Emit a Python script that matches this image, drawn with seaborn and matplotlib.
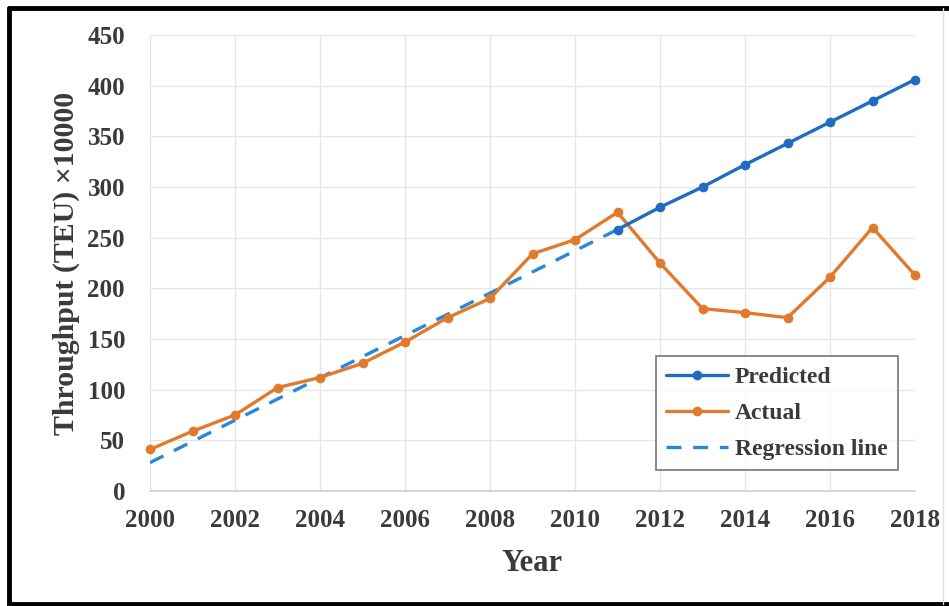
import matplotlib
matplotlib.use("Agg")
import matplotlib.pyplot as plt
import seaborn as sns
import pandas as pd
from matplotlib.lines import Line2D

# Container throughput, unit: 10,000 TEU
years_actual = list(range(2000, 2019))
actual = [41, 59, 75, 102, 112, 126, 147, 171, 190, 234, 248, 275,
          225, 180, 176, 171, 211, 260, 213]

years_pred = list(range(2011, 2019))
predicted = [258, 280, 300, 322, 343, 364, 385, 406]

# Fitted trend over the observed period (end points of the straight line)
reg_years = [2000, 2011]
reg_values = [28, 258]

x_ticks = list(range(2000, 2019, 2))
y_ticks = list(range(0, 451, 50))

BLUE = "#1f6cc0"
ORANGE = "#e07a2c"
REG_BLUE = "#2a88d8"
TEXT = "#3a3a3a"

sns.set_theme(style="white")
plt.rcParams["font.family"] = ["Liberation Serif", "DejaVu Serif"]
plt.rcParams["font.weight"] = "bold"

fig = plt.figure(figsize=(9.49, 6.06), dpi=100)
ax = fig.add_axes([150 / 949, 1 - 491 / 606, (915 - 150) / 949, (491 - 35) / 606])

df_act = pd.DataFrame({"Year": years_actual, "Value": actual})
df_pred = pd.DataFrame({"Year": years_pred, "Value": predicted})
df_reg = pd.DataFrame({"Year": reg_years, "Value": reg_values})

sns.lineplot(data=df_reg, x="Year", y="Value", ax=ax, color=REG_BLUE,
             linewidth=2.4, linestyle=(0, (4.5, 3.5)), zorder=3)
sns.lineplot(data=df_act, x="Year", y="Value", ax=ax, color=ORANGE,
             linewidth=2.4, marker="o", markersize=7, markeredgewidth=0,
             zorder=4, clip_on=False)
sns.lineplot(data=df_pred, x="Year", y="Value", ax=ax, color=BLUE,
             linewidth=2.4, marker="o", markersize=7, markeredgewidth=0,
             zorder=5, clip_on=False)

ax.set_xlim(2000, 2018)
ax.set_ylim(0, 450)
ax.set_xticks(x_ticks)
ax.set_yticks(y_ticks)
ax.grid(True, color="#e6e6e6", linewidth=1.0)
ax.set_axisbelow(True)
for side in ["top", "right", "left"]:
    ax.spines[side].set_visible(False)
ax.spines["bottom"].set_color("#d0d0d0")
ax.spines["bottom"].set_linewidth(1.2)

ax.tick_params(axis="both", length=0, labelsize=18, labelcolor=TEXT)
ax.tick_params(axis="x", pad=13)
ax.tick_params(axis="y", pad=18)
for lab in ax.get_xticklabels() + ax.get_yticklabels():
    lab.set_fontweight("bold")

ax.set_xlabel("Year", fontsize=22, fontweight="bold", color=TEXT, labelpad=12)
ax.set_ylabel("Throughput (TEU) ×10000", fontsize=21.5, fontweight="bold",
              color=TEXT, labelpad=5)

handles = [
    Line2D([], [], color=BLUE, linewidth=2.4, marker="o", markersize=6),
    Line2D([], [], color=ORANGE, linewidth=2.4, marker="o", markersize=6),
    Line2D([], [], color=REG_BLUE, linewidth=2.4, linestyle=(0, (4.5, 3.5))),
]
leg = ax.legend(handles, ["Predicted", "Actual", "Regression line"],
                loc="lower right", bbox_to_anchor=(0.978, 0.045),
                fontsize=17, frameon=True, fancybox=False,
                handlelength=2.6, handletextpad=0.3, borderpad=0.45,
                labelspacing=0.6, borderaxespad=0)
leg.get_frame().set_edgecolor("#555555")
leg.get_frame().set_linewidth(1.2)
for t in leg.get_texts():
    t.set_color(TEXT)
    t.set_fontweight("bold")

# Frame around the figure
fw, fh = 949, 606
fig.add_artist(Line2D([9 / fw, 1], [1 - 8 / fh, 1 - 8 / fh], color="black",
                      linewidth=3.5, transform=fig.transFigure))
fig.add_artist(Line2D([9 / fw, 9 / fw], [1 - 8 / fh, 1 - 604 / fh], color="black",
                      linewidth=3.5, transform=fig.transFigure))
fig.add_artist(Line2D([9 / fw, 1], [1 - 604 / fh, 1 - 604 / fh], color="black",
                      linewidth=3.5, transform=fig.transFigure))
fig.add_artist(Line2D([943 / fw, 943 / fw], [1 - 8 / fh, 1 - 604 / fh],
                      color="#e0e0e0", linewidth=1.0, transform=fig.transFigure))

fig.savefig("out.png", dpi=100)
